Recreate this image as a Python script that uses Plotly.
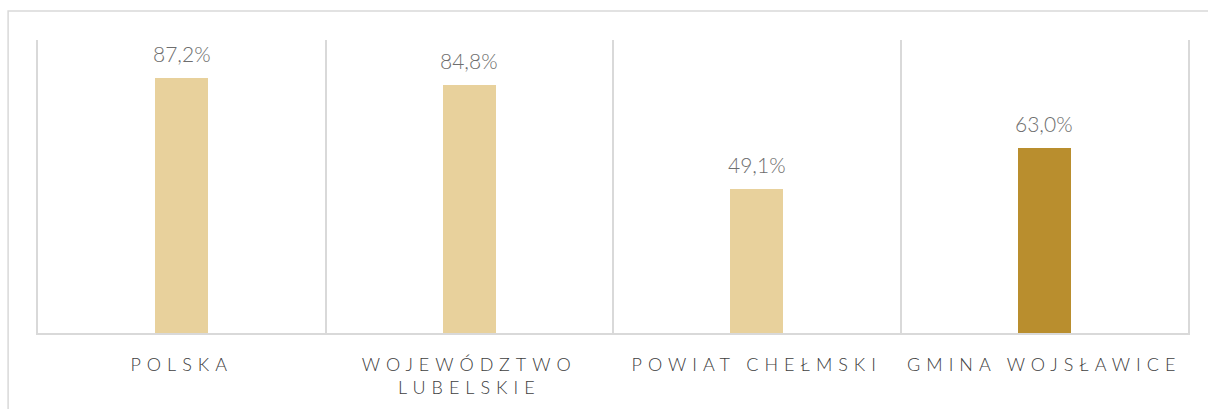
import plotly.graph_objects as go

categories = ["POLSKA", "WOJEWÓDZTWO<br>LUBELSKIE", "POWIAT CHEŁMSKI", "GMINA WOJSŁAWICE"]
values = [87.2, 84.8, 49.1, 63.0]
bar_colors = ["#E8D19C", "#E8D19C", "#E8D19C", "#B98E2E"]
value_labels = ["87,2%", "84,8%", "49,1%", "63,0%"]

FONT = "Century Gothic, Lato, sans-serif"

fig = go.Figure(go.Bar(
    x=categories, y=values,
    marker=dict(color=bar_colors, line=dict(width=0)),
    width=0.185,
    cliponaxis=False,
))

for c, v, t in zip(categories, values, value_labels):
    fig.add_annotation(x=c, y=v, text=t, showarrow=False, yanchor="bottom",
                       yshift=10, font=dict(family=FONT, size=21, color="#6E6E6E", weight=300))

fig.update_layout(
    width=1208, height=409,
    margin=dict(l=38, r=20, t=40, b=76),
    paper_bgcolor="white", plot_bgcolor="white",
    showlegend=False,
    bargap=0,
    xaxis=dict(
        type="category", range=[-0.5, 3.5],
        tickson="boundaries", showgrid=True, gridcolor="#D9D9D9", gridwidth=1.5,
        showline=True, linecolor="#D9D9D9", linewidth=2,
        ticks="outside", ticklen=14, tickcolor="rgba(0,0,0,0)",
        ticklabelstandoff=14,
        tickfont=dict(family=FONT, size=18, color="#404040", weight=300),
    ),
    yaxis=dict(
        range=[0, 100], showgrid=False, zeroline=False,
        showticklabels=False, ticks="",
        showline=True, mirror=True, linecolor="#D9D9D9", linewidth=1.5,
    ),
    shapes=[dict(type="rect", xref="paper", yref="paper",
                 x0=-0.026, x1=1.2, y0=-0.5, y1=1.099,
                 line=dict(color="#D9D9D9", width=1.5), fillcolor="rgba(0,0,0,0)")],
)

post = """
document.body.style.margin='0';
var gd=document.getElementById('{plot_id}');
function ls(){gd.querySelectorAll('.xtick text').forEach(function(t){t.style.letterSpacing='6px';});}
ls(); gd.on('plotly_afterplot', ls);
"""
fig.write_html("out.html", post_script=post, config={"displayModeBar": False})
